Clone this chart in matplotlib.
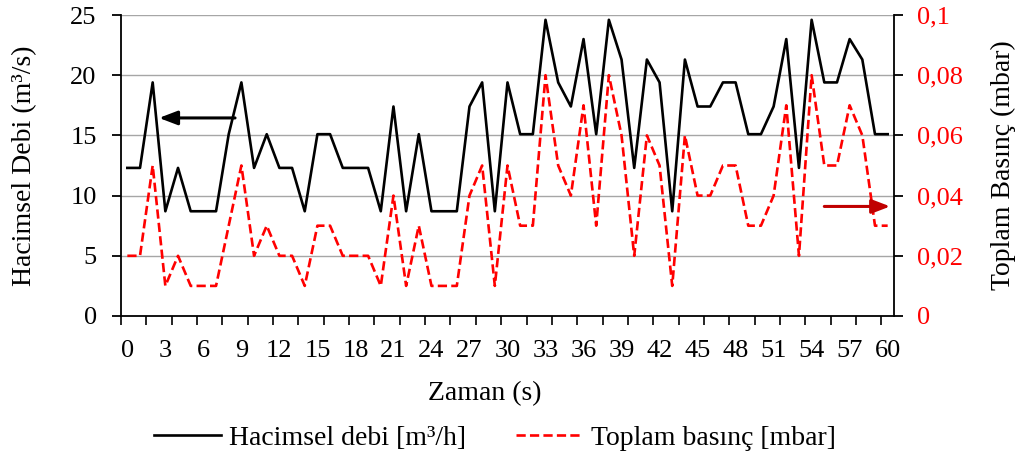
import matplotlib
matplotlib.use("Agg")
import matplotlib.pyplot as plt
import numpy as np
from matplotlib.lines import Line2D

plt.rcParams['font.family'] = ['Liberation Serif', 'DejaVu Serif']

time_s = list(range(0, 61))
flow = [12.3, 12.3, 19.4, 8.7, 12.3, 8.7, 8.7, 8.7, 15.1, 19.4,
        12.3, 15.1, 12.3, 12.3, 8.7, 15.1, 15.1, 12.3, 12.3, 12.3,
        8.7, 17.4, 8.7, 15.1, 8.7, 8.7, 8.7, 17.4, 19.4, 8.7,
        19.4, 15.1, 15.1, 24.6, 19.4, 17.4, 23.0, 15.1, 24.6, 21.3,
        12.3, 21.3, 19.4, 8.7, 21.3, 17.4, 17.4, 19.4, 19.4, 15.1,
        15.1, 17.4, 23.0, 12.3, 24.6, 19.4, 19.4, 23.0, 21.3, 15.1, 15.1]
pressure = [0.02, 0.02, 0.05, 0.01, 0.02, 0.01, 0.01, 0.01, 0.03, 0.05,
            0.02, 0.03, 0.02, 0.02, 0.01, 0.03, 0.03, 0.02, 0.02, 0.02,
            0.01, 0.04, 0.01, 0.03, 0.01, 0.01, 0.01, 0.04, 0.05, 0.01,
            0.05, 0.03, 0.03, 0.08, 0.05, 0.04, 0.07, 0.03, 0.08, 0.06,
            0.02, 0.06, 0.05, 0.01, 0.06, 0.04, 0.04, 0.05, 0.05, 0.03,
            0.03, 0.04, 0.07, 0.02, 0.08, 0.05, 0.05, 0.07, 0.06, 0.03, 0.03]
x_labels = [str(v) for v in range(0, 61, 3)]
left_ticks = [0, 5, 10, 15, 20, 25]
right_ticks = [0, 0.02, 0.04, 0.06, 0.08, 0.1]
right_labels = ['0', '0,02', '0,04', '0,06', '0,08', '0,1']

FS_TICK = 19
FS_LAB = 20
RED = '#ff0000'
DASH = (0, (3.5, 1.6))
LW = 1.9

fig = plt.figure(figsize=(10.19, 4.57), dpi=100)
ax = fig.add_axes([121/1019, 1-316/457, (894-121)/1019, (316-15)/457])
ax2 = ax.twinx()

ax.set_zorder(ax2.get_zorder() + 1)
ax.patch.set_visible(False)

ax.set_xlim(-0.5, 60.5)
ax.set_ylim(0, 25)
ax2.set_ylim(0, 0.1)

for t in left_ticks[1:]:
    ax2.axhline(t / 250, color='#a6a6a6', lw=1.0, zorder=0)

ax2.plot(time_s, pressure, color=RED, lw=LW, ls=DASH, zorder=2)
ax.plot(time_s, flow, color='black', lw=LW, zorder=3)

ax.set_yticks(left_ticks)
ax.set_yticklabels([str(t) for t in left_ticks], fontsize=FS_TICK)
ax2.set_yticks(right_ticks)
ax2.set_yticklabels(right_labels, fontsize=FS_TICK, color=RED)

ax.set_xticks(np.arange(-0.5, 61, 2), minor=False)
ax.set_xticklabels([])
ax.set_xticks(range(0, 61, 3), minor=True)
ax.set_xticklabels(x_labels, minor=True, fontsize=FS_TICK)
ax.tick_params(axis='x', which='major', length=6.5, width=1.2, direction='out')
ax.tick_params(axis='x', which='minor', length=0, pad=17)
ax.tick_params(axis='y', length=6.5, width=1.3, direction='out', pad=11)
ax2.tick_params(axis='y', length=6.5, width=1.3, direction='out', pad=10,
                colors='black', labelcolor=RED)

ax.spines['top'].set_visible(False)
ax2.spines['top'].set_visible(False)
ax.spines['right'].set_visible(False)
ax2.spines['left'].set_visible(False)
ax2.spines['bottom'].set_visible(False)
ax.spines['left'].set_linewidth(1.3)
ax.spines['bottom'].set_linewidth(1.3)
ax2.spines['right'].set_linewidth(1.3)

ax.set_xlabel('Zaman (s)', fontsize=FS_LAB, labelpad=14)
ax.xaxis.label.set_x(0.471)
ax.set_ylabel('Hacimsel Debi (m³/s)', fontsize=FS_LAB, labelpad=24)
ax2.set_ylabel('Toplam Basınç (mbar)', fontsize=FS_LAB, labelpad=20)

ax.annotate('', xy=(2.5, 16.45), xytext=(8.5, 16.45),
            arrowprops=dict(arrowstyle='-|>,head_length=1.1,head_width=0.42',
                            color='black', lw=2.2, shrinkA=0, shrinkB=0))
ax.annotate('', xy=(60.2, 9.1), xytext=(55.0, 9.1),
            arrowprops=dict(arrowstyle='-|>,head_length=1.1,head_width=0.42',
                            color='#c00000', lw=2.2, shrinkA=0, shrinkB=0))

handles = [Line2D([], [], color='black', lw=LW),
           Line2D([], [], color=RED, lw=LW, ls=DASH)]
fig.legend(handles, ['Hacimsel debi [m³/h]', 'Toplam basınç [mbar]'],
           loc='center', bbox_to_anchor=(495/1019, 1-438/457), ncol=2, frameon=False,
           fontsize=FS_LAB, handlelength=2.4, columnspacing=1.8, handletextpad=0.3)

fig.savefig('out.png', dpi=100)
